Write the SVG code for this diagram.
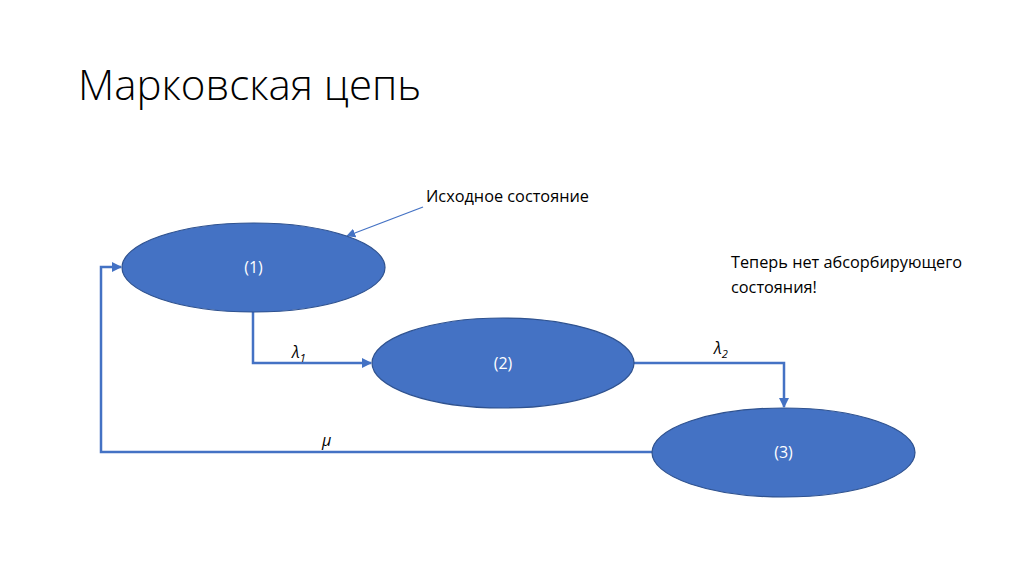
<svg xmlns="http://www.w3.org/2000/svg" width="1024" height="574" viewBox="0 0 1024 574">
<style>
.node{fill:#4472C4;stroke:#2F528F;stroke-width:1.2}
.nl{font-family:"Open Sans","Liberation Sans",sans-serif;font-size:16px;fill:#ffffff;text-anchor:middle}
.con{fill:none;stroke:#4472C4;stroke-width:2.5}
.lab{font-family:"Open Sans","Liberation Sans",sans-serif;font-size:16px;fill:#000;font-style:italic}
.txt{font-family:"Open Sans","Liberation Sans",sans-serif;font-size:16.3px;fill:#000}
</style>
<defs>
<marker id="ah" viewBox="0 0 10 10" refX="9" refY="5" markerWidth="4" markerHeight="4" orient="auto" markerUnits="strokeWidth">
<path d="M0,0 L10,5 L0,10 z" fill="#4472C4"/>
</marker>
<marker id="ah2" viewBox="0 0 10 10" refX="9" refY="5" markerWidth="7" markerHeight="7" orient="auto" markerUnits="strokeWidth">
<path d="M0,0 L10,5 L0,10 z" fill="#4472C4"/>
</marker>
</defs>
<rect width="1024" height="574" fill="#ffffff"/>
<text x="78" y="100" font-family="'Open Sans','Liberation Sans',sans-serif" font-weight="300" font-size="42" fill="#000">Марковская цепь</text>
<g id="connectors">
<path class="con" d="M253,312 V363 H371" marker-end="url(#ah)"/>
<path class="con" d="M634,363 H784 V407" marker-end="url(#ah)"/>
<path class="con" d="M652,452 H101 V267 H121" marker-end="url(#ah)"/>
<line x1="423" y1="207" x2="347" y2="236" stroke="#4472C4" stroke-width="1.3" marker-end="url(#ah2)"/>
<text class="lab" x="292" y="358">λ<tspan font-size="11" dy="4">1</tspan></text>
<text class="lab" x="714" y="354">λ<tspan font-size="11" dy="4">2</tspan></text>
<text class="lab" x="322" y="446">μ</text>
</g>
<g id="node1"><ellipse class="node" cx="253.5" cy="267.5" rx="131.5" ry="44.5"/><text class="nl" x="253.5" y="273">(1)</text></g>
<g id="node2"><ellipse class="node" cx="503" cy="363" rx="131" ry="45"/><text class="nl" x="503" y="369">(2)</text></g>
<g id="node3"><ellipse class="node" cx="783.5" cy="452.5" rx="131.5" ry="44.5"/><text class="nl" x="783.5" y="458">(3)</text></g>
<g id="note1"><text class="txt" x="426" y="202">Исходное состояние</text></g>
<g id="note2"><text class="txt" x="731" y="268">Теперь нет абсорбирующего</text><text class="txt" x="731" y="293">состояния!</text></g>
</svg>
